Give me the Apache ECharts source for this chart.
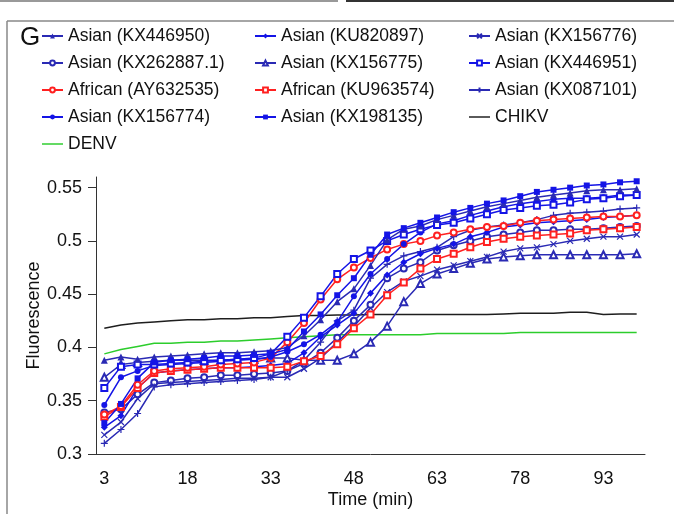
<!DOCTYPE html>
<html>
<head>
<meta charset="utf-8">
<script src="https://cdn.jsdelivr.net/npm/echarts@6/dist/echarts.min.js"></script>
<style>
html,body{margin:0;padding:0;background:#fff;}
#chart{width:674px;height:514px;}
</style>
</head>
<body>
<div id="chart"></div>
<script>
// ---- data ----
const times = [3,6,9,12,15,18,21,24,27,30,33,36,39,42,45,48,51,54,57,60,63,66,69,72,75,78,81,84,87,90,93,96,99];
const yTickValues = [0.3,0.35,0.4,0.45,0.5,0.55];

const KX446950 = [0.388,0.391,0.389,0.391,0.392,0.393,0.394,0.395,0.395,0.396,0.397,0.400,0.411,0.426,0.443,0.455,0.477,0.501,0.511,0.514,0.520,0.524,0.528,0.532,0.535,0.538,0.541,0.543,0.545,0.547,0.548,0.548,0.549];
const KU820897 = [0.325,0.336,0.362,0.376,0.378,0.379,0.380,0.381,0.381,0.382,0.383,0.385,0.395,0.410,0.421,0.432,0.451,0.468,0.480,0.488,0.493,0.497,0.504,0.508,0.513,0.515,0.517,0.518,0.519,0.520,0.522,0.523,0.524];
const KX156776 = [0.318,0.330,0.352,0.366,0.367,0.368,0.369,0.370,0.371,0.371,0.372,0.372,0.380,0.390,0.405,0.420,0.437,0.452,0.462,0.467,0.473,0.477,0.481,0.485,0.490,0.493,0.494,0.497,0.500,0.502,0.504,0.504,0.506];
const KX262887 = [0.339,0.342,0.356,0.367,0.369,0.371,0.372,0.374,0.374,0.375,0.376,0.378,0.385,0.395,0.409,0.425,0.440,0.465,0.474,0.480,0.491,0.496,0.500,0.504,0.506,0.508,0.510,0.510,0.511,0.511,0.512,0.513,0.514];
const KX156775 = [0.372,0.384,0.386,0.387,0.388,0.388,0.388,0.388,0.389,0.389,0.390,0.390,0.388,0.388,0.388,0.394,0.405,0.420,0.443,0.460,0.469,0.474,0.479,0.483,0.485,0.486,0.487,0.487,0.487,0.487,0.487,0.487,0.488];
const KX446951 = [0.362,0.382,0.384,0.384,0.385,0.386,0.387,0.388,0.389,0.390,0.394,0.410,0.428,0.448,0.469,0.483,0.491,0.500,0.506,0.511,0.515,0.517,0.521,0.525,0.529,0.531,0.533,0.534,0.536,0.539,0.540,0.542,0.543];
const AY632535 = [0.337,0.345,0.365,0.378,0.380,0.381,0.382,0.384,0.385,0.386,0.390,0.405,0.423,0.445,0.464,0.475,0.484,0.492,0.497,0.500,0.505,0.508,0.511,0.513,0.514,0.517,0.519,0.520,0.521,0.522,0.523,0.523,0.524];
const KU963574 = [0.335,0.344,0.362,0.376,0.378,0.379,0.380,0.381,0.381,0.381,0.381,0.382,0.387,0.392,0.403,0.418,0.431,0.449,0.461,0.474,0.483,0.488,0.494,0.499,0.502,0.504,0.505,0.506,0.507,0.510,0.511,0.512,0.513];
const KX087101 = [0.310,0.323,0.338,0.363,0.365,0.366,0.367,0.368,0.369,0.370,0.372,0.378,0.388,0.405,0.425,0.435,0.465,0.478,0.486,0.490,0.494,0.504,0.510,0.513,0.515,0.517,0.520,0.524,0.526,0.527,0.528,0.530,0.531];
const KX156774 = [0.346,0.372,0.378,0.383,0.384,0.385,0.386,0.387,0.388,0.389,0.391,0.396,0.403,0.412,0.424,0.448,0.469,0.483,0.497,0.508,0.516,0.519,0.524,0.528,0.532,0.535,0.537,0.539,0.540,0.540,0.541,0.543,0.543];
const KX198135 = [0.329,0.347,0.371,0.386,0.388,0.389,0.390,0.392,0.392,0.393,0.394,0.398,0.415,0.431,0.449,0.465,0.487,0.506,0.512,0.517,0.522,0.527,0.531,0.535,0.538,0.542,0.546,0.548,0.550,0.552,0.553,0.555,0.556];
const CHIKV = [0.418,0.421,0.423,0.424,0.425,0.426,0.426,0.427,0.427,0.428,0.428,0.429,0.430,0.430,0.4305,0.4305,0.431,0.431,0.431,0.431,0.431,0.431,0.431,0.431,0.4315,0.432,0.432,0.432,0.433,0.433,0.431,0.4315,0.4315];
const DENV = [0.394,0.398,0.401,0.404,0.404,0.405,0.405,0.406,0.406,0.407,0.408,0.409,0.410,0.411,0.412,0.412,0.412,0.412,0.412,0.412,0.413,0.413,0.413,0.413,0.413,0.414,0.414,0.414,0.414,0.414,0.414,0.414,0.414];

const legendCol1 = ['Asian (KX446950)','Asian (KX262887.1)','African (AY632535)','Asian (KX156774)','DENV'];
const legendCol2 = ['Asian (KU820897)','Asian (KX156775)','African (KU963574)','Asian (KX198135)'];
const legendCol3 = ['Asian (KX156776)','Asian (KX446951)','Asian (KX087101)','CHIKV'];

// ---- styling ----
const BLUE = '#1414e6';
const NAVY = '#2a2ab4';
const RED = '#ff2020';
const X_PATH = 'path://M0,0L10,10M10,0L0,10';
const PLUS_PATH = 'path://M5,0L5,10M0,5L10,5';
const BAR_ICON = 'path://M0,0H20V1.4H0Z';

function mk(name, data, color, symbol, size, empty, stroked) {
  return {
    name: name, type: 'line', data: data,
    symbol: symbol, symbolSize: size,
    showSymbol: symbol !== 'none',
    lineStyle: { color: color, width: 1.5 },
    itemStyle: stroked
      ? { color: 'rgba(0,0,0,0)', borderColor: color, borderWidth: 1.2 }
      : (empty ? { color: color, borderColor: color, borderWidth: 1 } : { color: color, borderWidth: 0 }),
    emphasis: { disabled: true },
    animation: false
  };
}

const series = [
  mk('CHIKV', CHIKV, '#1e1e1e', 'none', 0),
  mk('DENV', DENV, '#2ccd2c', 'none', 0),
  mk('Asian (KX156775)', KX156775, NAVY, 'emptyTriangle', 7, true),
  mk('Asian (KX156776)', KX156776, NAVY, X_PATH, 6, false, true),
  mk('Asian (KX262887.1)', KX262887, NAVY, 'emptyCircle', 6, true),
  mk('Asian (KX087101)', KX087101, NAVY, PLUS_PATH, 7, false, true),
  mk('Asian (KU820897)', KU820897, BLUE, 'diamond', 7),
  mk('African (KU963574)', KU963574, RED, 'emptyRect', 6, true),
  mk('African (AY632535)', AY632535, RED, 'emptyCircle', 6, true),
  mk('Asian (KX156774)', KX156774, BLUE, 'circle', 6),
  mk('Asian (KX446951)', KX446951, BLUE, 'emptyRect', 6, true),
  mk('Asian (KX446950)', KX446950, NAVY, 'triangle', 7),
  mk('Asian (KX198135)', KX198135, BLUE, 'rect', 6)
];

const FONT = '"Liberation Sans", Arial, sans-serif';
function legend(left, names) {
  return {
    orient: 'vertical', left: left, top: 26, padding: 0,
    itemWidth: 21, itemHeight: 6, itemGap: 7,
    data: names.map(n => (n === 'CHIKV' || n === 'DENV') ? { name: n, icon: BAR_ICON } : n),
    selectedMode: false,
    textStyle: { fontFamily: FONT, fontSize: 17.5, color: '#111', lineHeight: 20 }
  };
}

const chart = echarts.init(document.getElementById('chart'), null, { renderer: 'canvas' });
chart.setOption({
  backgroundColor: '#fff',
  animation: false,
  graphic: [
    { type: 'line', shape: { x1: 0, y1: 1, x2: 338, y2: 1 }, style: { stroke: '#999', lineWidth: 2 } },
    { type: 'line', shape: { x1: 346, y1: 1, x2: 674, y2: 1 }, style: { stroke: '#333', lineWidth: 2 } },
    { type: 'line', shape: { x1: 7, y1: 21, x2: 674, y2: 21 }, style: { stroke: '#888', lineWidth: 1.5 } },
    { type: 'line', shape: { x1: 7, y1: 21, x2: 7, y2: 514 }, style: { stroke: '#888', lineWidth: 1.5 } },
    { type: 'text', left: 20, top: 25, style: { text: 'G', font: '26px ' + FONT, fill: '#111' } }
  ],
  legend: [legend(41, legendCol1), legend(254, legendCol2), legend(468, legendCol3)],
  grid: { left: 96, right: 29, top: 177, bottom: 56, containLabel: false },
  xAxis: {
    type: 'category', data: times, boundaryGap: true,
    name: 'Time (min)', nameLocation: 'middle', nameGap: 37, nameMoveOverlap: false,
    nameTextStyle: { fontFamily: FONT, fontSize: 18, color: '#111' },
    axisLine: { lineStyle: { color: '#333', width: 1 } },
    axisTick: { interval: 4, length: 8, lineStyle: { color: '#333' } },
    axisLabel: { interval: 4, margin: 16, fontFamily: FONT, fontSize: 18, color: '#111' },
    splitLine: { show: false }
  },
  yAxis: {
    type: 'value', min: 0.3, max: 0.56,
    name: 'Fluorescence', nameLocation: 'middle', nameGap: 53, nameRotate: 90, nameMoveOverlap: false,
    nameTextStyle: { fontFamily: FONT, fontSize: 18, color: '#111' },
    axisLine: { show: true, lineStyle: { color: '#333', width: 1 } },
    axisTick: { show: true, length: 8, customValues: yTickValues, lineStyle: { color: '#333' } },
    axisLabel: { customValues: yTickValues, margin: 14, fontFamily: FONT, fontSize: 18, color: '#111' },
    splitLine: { show: false }
  },
  series: series
});
</script>
</body>
</html>
